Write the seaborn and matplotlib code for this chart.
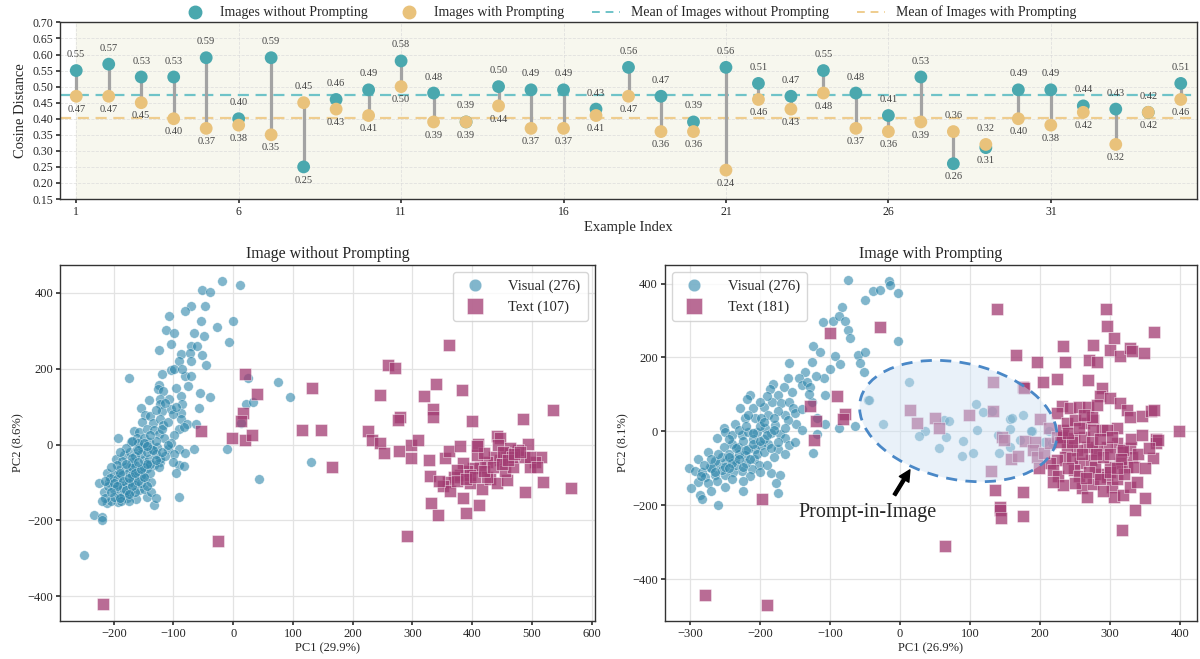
import numpy as np
import pandas as pd
import matplotlib
matplotlib.use('Agg')
import matplotlib.pyplot as plt
from matplotlib.patches import Ellipse
from matplotlib.lines import Line2D
import seaborn as sns

sns.set_theme(style="white")
plt.rcParams['font.family'] = ['Liberation Serif', 'DejaVu Serif']
plt.rcParams['axes.unicode_minus'] = True

# Colors
COLOR_WO = '#4aa8ae'
COLOR_W = '#e9c27b'
COLOR_VIS = '#2e86ab'
COLOR_TXT = '#a23b72'

# ---------------------------------------------------------
# Data: cosine distance per example
# ---------------------------------------------------------
example_idx = list(range(1, 36))
dist_without = [0.55, 0.57, 0.53, 0.53, 0.59, 0.40, 0.59, 0.25, 0.46, 0.49,
                0.58, 0.48, 0.39, 0.50, 0.49, 0.49, 0.43, 0.56, 0.47, 0.39,
                0.56, 0.51, 0.47, 0.55, 0.48, 0.41, 0.53, 0.26, 0.31, 0.49,
                0.49, 0.44, 0.43, 0.42, 0.51]
dist_with = [0.47, 0.47, 0.45, 0.40, 0.37, 0.38, 0.35, 0.45, 0.43, 0.41,
             0.50, 0.39, 0.39, 0.44, 0.37, 0.37, 0.41, 0.47, 0.36, 0.36,
             0.24, 0.46, 0.43, 0.48, 0.37, 0.36, 0.39, 0.36, 0.32, 0.40,
             0.38, 0.42, 0.32, 0.42, 0.46]

# ---------------------------------------------------------
# Data: PCA, image without prompting
# ---------------------------------------------------------
vis_wo = [(-19, 431), (12, 421), (-53, 407), (-39, 402), (-48, 364), (-71, 366), (-81, 352), (-108, 340),
          (-54, 325), (0, 327), (-27, 310), (-113, 302), (-99, 295), (-66, 294), (-49, 286), (-7, 270),
          (-105, 265), (-71, 260), (-124, 248), (-88, 239), (-72, 242), (-52, 235), (-91, 219), (-46, 209),
          (-105, 197), (-120, 185), (-99, 200), (-175, 176), (-81, 180), (-71, 181), (24, 175), (75, 165),
          (95, 125), (-125, 158), (-75, 154), (-126, 147), (-118, 141), (-55, 137), (-39, 125), (-88, 127),
          (-122, 119), (-141, 118), (-108, 121), (-123, 108), (-155, 97), (-58, 97), (22, 107), (33, 111),
          (-86, 106), (-120, 88), (-105, 95), (-88, 82), (-88, 68), (-148, 77), (-139, 75), (-152, 60),
          (-134, 56), (-122, 68), (-117, 51), (-91, 42), (-77, 55), (-63, 55), (-99, 26), (-83, 47),
          (-193, 18), (-166, 36), (-157, 32), (-145, 42), (-132, 38), (-124, 29), (-171, 7), (-161, 18),
          (-150, 16), (-141, 7), (-116, 16), (-91, -11), (-80, -22), (-65, -12), (-10, -11), (13, 57),
          (43, -91), (130, -45), (-90, -138), (-132, -158), (-233, -186), (-219, -190), (-219, -200),
          (-250, -291), (-145, -139), (-162, -144), (-178, -142), (-193, -151), (-211, -153), (-205, -150),
          (-225, -100), (-211, -76), (-197, -37), (-183, -28), (-172, -19), (-161, -11), (-152, -6),
          (-138, -11), (-127, -6), (-110, -11), (-99, -26), (-91, -54), (-82, -57), (-95, -75), (-122, -46),
          (-133, -54), (-144, -63), (-155, -81), (-166, -89), (-178, -98), (-189, -107), (-200, -116),
          (-217, -125), (-147, -89), (-138, -98), (-158, -120), (-172, -125), (-183, -133), (-122, -37),
          (-169, -46), (-180, -59), (-192, -68), (-200, -81), (-208, -98), (-186, -81), (-175, -72),
          (-164, -54), (-150, -41), (-141, -37), (-155, -24), (-186, -44), (-194, -54), (-206, -89),
          (-192, -129), (-164, -107), (-150, -116), (-138, -125), (-200, -138), (-170, -80), (-160, -70),
          (-175, -100), (-185, -115), (-150, -60), (-165, -30), (-145, -20), (-130, -25), (-195, -90),
          (-210, -110), (-180, -10), (-160, 5), (-140, -75), (-125, -60), (-115, -30), (-105, 5),
          (-100, -45), (-130, -140), (-175, -150), (-215, -140), (-190, -20), (-170, -60), (-155, -100),
          (-145, -110), (-165, -125), (-205, -60), (-220, -150), (-188, -150), (-180, -120), (-170, -110),
          (-160, -95), (-150, -85), (-140, -50), (-130, -40), (-170, -35), (-180, -50), (-190, -75),
          (-200, -100), (-185, -95), (-175, -88), (-165, -75), (-155, -65), (-145, -50), (-135, -15),
          (-120, -20), (-110, 0), (-150, 5), (-170, 10), (-160, -45), (-175, -130), (-195, -110),
          (-205, -125), (-190, -140), (-215, -95), (-160, -15), (-145, -5), (-130, 10), (-140, 25),
          (-120, 40), (-110, 60), (-100, 80), (-95, 100), (-130, 90), (-115, 110), (-95, 150), (-85, 200),
          (-70, 220), (-60, 260)]
txt_wo = [(20, 187), (39, 132), (16, 84), (13, 61), (-54, 35), (-2, 16), (20, 11), (32, 25), (-25, -253),
          (-218, -420), (115, 39), (147, 39), (132, 148), (166, -58), (291, -241), (362, 263), (259, 209),
          (270, 202), (340, 160), (246, 130), (320, 127), (383, 144), (334, 95), (334, 72), (279, 72),
          (276, 66), (399, 63), (485, 68), (536, 90), (226, 36), (232, 11), (246, 4), (253, -23), (278, -16),
          (297, -1), (310, 11), (297, -36), (327, -41), (354, -36), (361, -17), (380, -4), (409, 2), (441, 23),
          (447, 17), (493, 2), (330, -82), (331, -153), (342, -186), (390, -181), (412, -159), (384, -140),
          (417, -118), (488, -124), (519, -98), (566, -114), (516, -32), (505, -45), (497, -58), (486, -33),
          (476, -14), (464, -10), (455, -23), (447, -41), (436, -32), (425, -45), (413, -58), (402, -63),
          (391, -71), (380, -80), (369, -85), (360, -98), (352, -109), (363, -122), (397, -102), (430, -92),
          (441, -100), (458, -93), (455, -71), (469, -58), (385, -49), (374, -67), (408, -27), (419, -23),
          (444, -1), (452, -19), (466, -32), (397, -80), (425, -85), (497, -32), (508, -58), (408, -5),
          (375, -95), (390, -90), (405, -85), (420, -70), (435, -60), (450, -50), (460, -40), (470, -25),
          (480, -20), (345, -95)]

# ---------------------------------------------------------
# Data: PCA, image with prompting
# ---------------------------------------------------------
vis_w = [(-75, 409), (-16, 406), (-14, 397), (-39, 379), (-29, 384), (-3, 375), (-50, 355), (-83, 336),
         (-110, 295), (-96, 299), (-87, 311), (-79, 298), (-75, 275), (-72, 252), (-124, 232), (-114, 216),
         (-93, 204), (-86, 182), (-60, 207), (-50, 214), (-57, 184), (-52, 162), (-3, 244), (-159, 186),
         (-126, 187), (-136, 162), (-145, 144), (-140, 125), (-133, 134), (-108, 144), (-107, 98), (-128, 121),
         (-160, 144), (-182, 127), (-166, 121), (-154, 107), (-174, 98), (-186, 116), (-214, 98), (-218, 89),
         (-229, 62), (-210, 64), (-194, 65), (-183, 80), (-170, 76), (-159, 80), (-153, 62), (-148, 21),
         (-165, 44), (-188, 44), (-207, 35), (-221, 35), (-236, 21), (-252, 8), (-250, -1), (-240, -10),
         (-226, -10), (-217, -1), (-205, -1), (-193, 8), (-179, 17), (-171, -6), (-164, -19), (-159, -38),
         (-174, -47), (-188, -33), (-198, -38), (-207, -47), (-217, -47), (-231, -42), (-240, -33), (-252, -42),
         (-261, -19), (-274, -56), (-288, -74), (-302, -98), (-293, -106), (-283, -110), (-271, -96),
         (-260, -87), (-248, -83), (-236, -74), (-221, -65), (-208, -74), (-202, -92), (-212, -101),
         (-226, -106), (-238, -110), (-250, -119), (-264, -119), (-279, -124), (-288, -137), (-299, -153),
         (-286, -173), (-283, -184), (-260, -199), (-224, -161), (-184, -113), (-171, -119), (-177, -140),
         (-175, -166), (-124, -58), (-119, -6), (-107, 19), (-87, 10), (-65, 15), (-46, 85), (-25, 20),
         (-126, 80), (-119, 35), (-217, 44), (-198, 35), (13, 134), (108, 75), (119, 53), (131, 56), (175, 45),
         (157, 33), (160, 35), (157, 6), (189, 0), (63, 31), (70, 27), (35, 0), (27, -12), (66, -14), (56, -46),
         (90, -26), (89, -66), (104, -59), (110, 4), (140, -10), (141, -58), (157, -41), (171, -23), (205, -28),
         (212, 0), (217, -32), (187, 0), (-45, 84), (-230, -60), (-245, -60), (-255, -70), (-265, -80),
         (-235, -90), (-220, -85), (-205, -60), (-195, -20), (-185, -5), (-210, -20), (-225, -25), (-245, -20),
         (-270, -100), (-255, -105), (-240, -130), (-215, -120), (-200, -110), (-190, -90), (-180, -70),
         (-165, -60), (-150, -30), (-140, 5), (-160, 30), (-175, 55), (-200, 15), (-230, 5), (-262, -135),
         (-275, -140), (-250, -95), (-240, -85), (-230, -75), (-220, -50), (-210, -35), (-200, -25),
         (-190, -10), (-180, 5), (-195, -55), (-185, -45), (-175, -30), (-235, -45), (-245, -70), (-260, -60),
         (-270, -75), (-280, -90), (-285, -120), (-265, -110), (-245, -100), (-225, -95), (-215, -75),
         (-225, -135), (-250, -150), (-270, -160), (-210, -5), (-220, 15), (-195, 25), (-180, 35), (-165, 10),
         (-150, 50), (-140, 60), (-130, 100), (-120, 150), (-100, 170), (-190, 95), (-200, 80)]
txt_w = [(-100, 266), (-28, 282), (-129, 69), (-90, 96), (-120, 29), (-79, 48), (-82, 33), (-123, -22),
         (-197, -184), (-279, -444), (-190, -469), (64, -311), (165, 208), (195, 189), (232, 230), (235, 188),
         (204, 134), (224, 143), (133, 134), (176, 119), (14, 58), (24, 22), (50, 37), (55, 9), (99, 45),
         (132, 56), (200, 33), (213, 9), (145, -14), (148, -23), (158, -75), (168, -66), (179, -26), (193, -28),
         (190, -50), (130, -107), (136, -159), (176, -163), (142, -204), (143, -213), (144, -233), (175, -230),
         (138, 330), (294, 330), (296, 285), (306, 253), (362, 269), (276, 235), (300, 221), (314, 203),
         (329, 226), (331, 217), (349, 212), (270, 194), (281, 188), (268, 138), (177, 117), (288, 117),
         (286, 96), (300, 90), (314, 77), (324, 58), (329, 40), (345, 42), (359, 54), (362, 58), (231, 69),
         (243, 63), (255, 66), (268, 66), (224, 49), (262, 22), (276, 31), (288, 4), (310, 9), (398, 0),
         (365, -21), (365, -32), (361, -73), (329, -46), (331, -68), (310, -32), (317, -55), (295, -41),
         (281, -50), (267, -41), (252, -50), (238, -41), (231, -14), (236, -68), (224, -77), (214, -86),
         (219, -104), (226, -122), (233, -145), (218, -136), (260, -154), (267, -177), (276, -141),
         (286, -114), (295, -123), (302, -150), (305, -177), (319, -172), (329, -150), (338, -136),
         (350, -179), (336, -213), (317, -266), (314, -86), (324, -95), (300, -95), (257, -86), (248, -104),
         (245, -73), (272, -77), (279, -95), (290, -68), (319, -50), (334, -95), (195, -68), (198, -100),
         (205, -59), (214, -32), (224, -14), (233, 4), (248, -18), (262, -14), (274, -28), (276, 4), (295, 4),
         (302, -14), (238, 22), (250, 31), (281, 72), (274, 40), (262, 45), (368, -23), (240, -100),
         (255, -120), (270, -110), (285, -130), (300, -110), (310, -130), (320, -115), (245, -30), (260, -60),
         (285, -20), (300, -60), (315, -75), (330, -20), (340, -60), (350, -100), (290, -160), (250, -140),
         (228, -30), (240, -5), (255, 10), (345, -10), (355, -45), (310, -100), (265, -125), (280, -60)]

fig = plt.figure(figsize=(12, 6.59), dpi=100)

# ---------------------------------------------------------
# 1. Dumbbell plot of cosine distances
# ---------------------------------------------------------
ax = fig.add_axes([0.05, 0.698, 0.9475, 0.268])
ax.set_facecolor('white')
ax.axvspan(1, 35.6, color='#f7f7ee', zorder=0)

ax.vlines(example_idx, dist_with, dist_without, color='#a3a3a3', linewidth=2.3, zorder=2)
sns.scatterplot(x=example_idx, y=dist_without, color=COLOR_WO, s=85, edgecolor='none', zorder=3, ax=ax)
sns.scatterplot(x=example_idx, y=dist_with, color=COLOR_W, s=85, edgecolor='none', zorder=4, ax=ax)

mean_wo = np.mean(dist_without)
mean_w = np.mean(dist_with)
ax.axhline(mean_wo, color='#6fc3c8', linestyle=(0, (5, 3)), linewidth=1.6, zorder=1)
ax.axhline(mean_w, color='#efcd8e', linestyle=(0, (5, 3)), linewidth=1.6, zorder=1)

for xi, t, o in zip(example_idx, dist_without, dist_with):
    hi, lo = max(t, o), min(t, o)
    ax.annotate(f'{hi:.2f}', (xi, hi), xytext=(0, 11.5), textcoords='offset points',
                ha='center', va='center', fontsize=7.5, color='#444444')
    ax.annotate(f'{lo:.2f}', (xi, lo), xytext=(0, -9.5), textcoords='offset points',
                ha='center', va='center', fontsize=7.5, color='#444444')

ax.set_xlim(0.5, 35.5)
ax.set_ylim(0.15, 0.70)
ax.set_xticks([1, 6, 11, 16, 21, 26, 31])
ax.set_yticks(np.arange(0.15, 0.701, 0.05))
ax.set_yticklabels([f'{v:.2f}' for v in np.arange(0.15, 0.701, 0.05)])
ax.tick_params(axis='both', labelsize=8.5, length=3, left=True, bottom=True, color='#333333', pad=2)
ax.set_xlabel('Example Index', fontsize=10.5, labelpad=2)
ax.set_ylabel('Cosine Distance', fontsize=10.5, labelpad=4)
ax.grid(True, linestyle='--', linewidth=0.6, color='#d8d8d8', alpha=0.7)
ax.set_axisbelow(True)
for sp in ax.spines.values():
    sp.set_color('#333333')
    sp.set_linewidth(1.0)

handles = [
    Line2D([0], [0], marker='o', linestyle='none', markersize=9, color=COLOR_WO, label='Images without Prompting'),
    Line2D([0], [0], marker='o', linestyle='none', markersize=9, color=COLOR_W, label='Images with Prompting'),
    Line2D([0], [0], color='#6fc3c8', linestyle=(0, (4, 3)), linewidth=1.4, label='Mean of Images without Prompting'),
    Line2D([0], [0], color='#efcd8e', linestyle=(0, (4, 3)), linewidth=1.4, label='Mean of Images with Prompting'),
]
ax.legend(handles=handles, loc='lower center', bbox_to_anchor=(0.5, 0.985), ncol=4, frameon=False,
          fontsize=10, handletextpad=0.8, columnspacing=2.0, borderaxespad=0, handlelength=2.0)

# ---------------------------------------------------------
# 2. PCA scatter plots
# ---------------------------------------------------------
def pca_panel(pos, vis, txt, title, xlabel, ylabel, xlim, ylim, xticks):
    a = fig.add_axes(pos)
    vdf = pd.DataFrame(vis, columns=['PC1', 'PC2'])
    tdf = pd.DataFrame(txt, columns=['PC1', 'PC2'])
    sns.scatterplot(data=vdf, x='PC1', y='PC2', marker='o', s=48, color=COLOR_VIS, alpha=0.6,
                    edgecolor='white', linewidth=0.4, ax=a, zorder=3)
    sns.scatterplot(data=tdf, x='PC1', y='PC2', marker='s', s=75, color=COLOR_TXT, alpha=0.75,
                    edgecolor='white', linewidth=0.4, ax=a, zorder=4)
    a.set_xlim(*xlim)
    a.set_ylim(*ylim)
    a.set_xticks(xticks)
    a.set_yticks([-400, -200, 0, 200, 400])
    a.set_title(title, fontsize=11.5, pad=5)
    a.set_xlabel(xlabel, fontsize=9, labelpad=2)
    a.set_ylabel(ylabel, fontsize=9, labelpad=2)
    a.tick_params(axis='both', labelsize=9, length=3, left=True, bottom=True, color='#333333', pad=2)
    a.grid(True, color='#e3e3e3', linewidth=0.9)
    a.set_axisbelow(True)
    for sp in a.spines.values():
        sp.set_color('#333333')
        sp.set_linewidth(1.0)
    return a

ax_l = pca_panel([0.05, 0.0577, 0.446, 0.540], vis_wo, txt_wo, 'Image without Prompting',
                 'PC1 (29.9%)', 'PC2 (8.6%)', (-290, 606), (-465, 473),
                 [-200, -100, 0, 100, 200, 300, 400, 500, 600])
ax_r = pca_panel([0.554, 0.0577, 0.4435, 0.540], vis_w, txt_w, 'Image with Prompting',
                 'PC1 (26.9%)', 'PC2 (8.1%)', (-336, 424), (-513, 450),
                 [-300, -200, -100, 0, 100, 200, 300, 400])

for a, n_txt, loc in [(ax_l, 107, 'upper right'), (ax_r, 181, 'upper left')]:
    leg_handles = [
        Line2D([0], [0], marker='o', linestyle='none', markersize=9, color=COLOR_VIS, alpha=0.6,
               markeredgecolor='white', markeredgewidth=0.4),
        Line2D([0], [0], marker='s', linestyle='none', markersize=11, color=COLOR_TXT, alpha=0.75,
               markeredgecolor='white', markeredgewidth=0.4),
    ]
    a.legend(leg_handles, ['Visual (276)', f'Text ({n_txt})'], loc=loc, fontsize=10.5, frameon=True,
             edgecolor='#cccccc', handletextpad=1.3, borderpad=0.5, labelspacing=0.5)

# Prompt-in-Image region
ell = Ellipse((83, 28), width=345, height=261, angle=-62, facecolor='#cfe1f3', alpha=0.45,
              edgecolor='none', zorder=5)
ax_r.add_patch(ell)
ell_edge = Ellipse((83, 28), width=345, height=261, angle=-62, facecolor='none',
                   edgecolor='#4a88c7', linewidth=2.0, linestyle=(0, (4, 3)), zorder=6)
ax_r.add_patch(ell_edge)
ax_r.annotate('', xy=(14, -104), xytext=(-8, -172),
              arrowprops=dict(facecolor='black', edgecolor='black', width=2.2, headwidth=8, headlength=8),
              zorder=7)
ax_r.text(-47, -219, 'Prompt-in-Image', ha='center', va='center', fontsize=14.5, zorder=7)

plt.savefig('out.png', dpi=100)
plt.close()
